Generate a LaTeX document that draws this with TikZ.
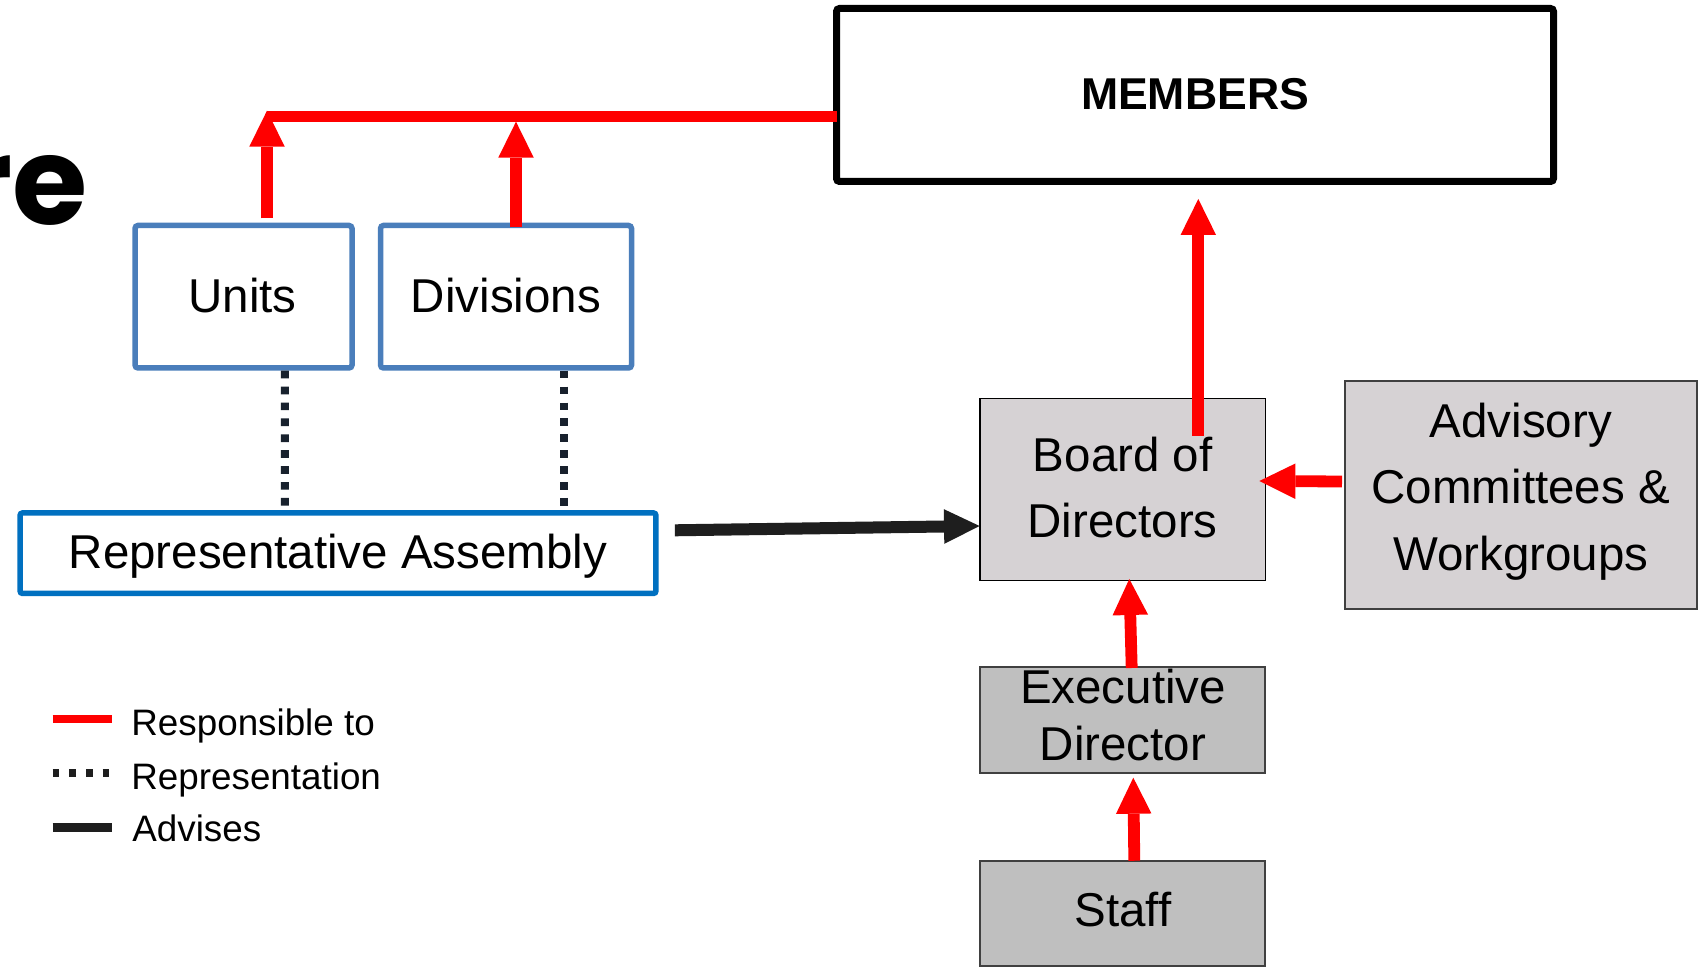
\documentclass[tikz,border=0pt]{standalone}
\usepackage{fontspec}
\setmainfont{Liberation Sans}
\newfontfamily\headingfont{Poppins}
\usetikzlibrary{arrows.meta,calc}

\definecolor{resp}{RGB}{255,0,0}
\definecolor{groupblue}{RGB}{74,126,187}
\definecolor{assemblyblue}{RGB}{0,112,192}
\definecolor{boardfill}{RGB}{214,210,212}
\definecolor{stafffill}{RGB}{191,191,191}
\definecolor{edgegray}{RGB}{64,64,64}
\definecolor{repline}{RGB}{24,33,45}
\definecolor{advline}{RGB}{30,30,30}

\tikzset{
  frame/.style={rectangle, inner sep=0pt, outer sep=0pt},
  memberbox/.style={frame, draw=black, line width=3.5pt, rounded corners=1.5pt},
  groupbox/.style={frame, draw=groupblue, line width=2.75pt, rounded corners=1.5pt},
  assemblybox/.style={frame, draw=assemblyblue, line width=2.75pt, rounded corners=1.2pt},
  boardbox/.style={frame, draw=black, fill=boardfill, line width=0.7pt},
  advisorybox/.style={frame, draw=edgegray, fill=boardfill, line width=1pt},
  staffbox/.style={frame, draw=edgegray, fill=stafffill, line width=1pt},
  boxtext/.style={inner sep=0pt, anchor=base, font=\fontsize{23.75pt}{28pt}\selectfont},
  legendtext/.style={inner sep=0pt, anchor=base west, font=\fontsize{18.4pt}{22pt}\selectfont},
  resparrow/.style={draw=resp, line width=5.9pt, -{Triangle[length=18pt, width=17.75pt, line width=0pt]}},
  busline/.style={draw=resp, line width=5.5pt},
  advarrow/.style={draw=advline, line width=6pt, -{Triangle[length=17.75pt, width=17.35pt, line width=0pt]}},
  repdots/.style={draw=repline, line width=4pt, dash pattern=on 3.85pt off 4.1pt},
}

\begin{document}
\begin{tikzpicture}[x=0.5pt, y=-0.5pt]
  \useasboundingbox (0,0) rectangle (1703,967);
  \fill[white] (0,0) rectangle (1703,967);

  % heading fragment at the left edge
  \node[inner sep=0pt, anchor=base east, font=\headingfont\bfseries\fontsize{61pt}{70pt}\selectfont] (title) at (88,225) {re};

  % boxes
  \node[memberbox, minimum width=358.5pt, minimum height=86.5pt] (members) at (1195,95) {};
  \node[groupbox, minimum width=108.5pt, minimum height=71.25pt] (units) at (243.5,296.75) {};
  \node[groupbox, minimum width=125.5pt, minimum height=71.25pt] (divisions) at (506,296.75) {};
  \node[assemblybox, minimum width=317.9pt, minimum height=40.25pt] (ra) at (338,553.2) {};
  \node[boardbox, minimum width=142.65pt, minimum height=91.2pt] (board) at (1122.7,489.5) {};
  \node[advisorybox, minimum width=175.75pt, minimum height=114.25pt] (advisory) at (1520.75,495.25) {};
  \node[staffbox, minimum width=142.65pt, minimum height=53pt] (exec) at (1122.7,719.7) {};
  \node[staffbox, minimum width=142.65pt, minimum height=52.65pt] (staff) at (1122.7,913.4) {};

  % box texts
  \node[boxtext, font=\bfseries\fontsize{22.3pt}{26pt}\selectfont] (members-t) at (1195,109.3) {MEMBERS};
  \node[boxtext] (units-t) at (242.5,313) {Units};
  \node[boxtext] (divisions-t) at (506,313) {Divisions};
  \node[boxtext] (ra-t) at (338,569) {Representative Assembly};
  \node[boxtext] (board-t1) at (1122.7,471.7) {Board of};
  \node[boxtext] (board-t2) at (1122.7,537.3) {Directors};
  \node[boxtext] (advisory-t1) at (1520.75,437.5) {Advisory};
  \node[boxtext] (advisory-t2) at (1520.75,504) {Committees \&};
  \node[boxtext] (advisory-t3) at (1520.75,570.5) {Workgroups};
  \node[boxtext] (exec-t1) at (1123,703.3) {Executive};
  \node[boxtext] (exec-t2) at (1123,760.7) {Director};
  \node[boxtext] (staff-t) at (1123,926) {Staff};

  % red bus line into MEMBERS
  \coordinate (bus-w) at (267,116.2);
  \coordinate (bus-d) at (516,121.7);
  \draw[busline] (bus-w) -- (members.west |- bus-w);

  % responsible-to arrows
  \draw[resparrow] ($(units.north)+(23.5,-7.2)$) -- ($(bus-w)+(0,-5.5)$);
  \draw[resparrow] ($(divisions.north)+(10,1.8)$) -- (bus-d);
  \draw[resparrow] ($(board.north)+(75.6,37.7)$) -- ($(members.south)+(3.3,17.5)$);
  \draw[resparrow] ($(advisory.west)+(-3,-13.75)$) -- ($(board.east)+(-6,-8.5)$);
  \draw[resparrow] ($(exec.north)+(9,1.3)$) -- ($(board.south)+(6.6,-1.7)$);
  \draw[resparrow] ($(staff.north)+(11.6,0)$) -- ($(exec.south)+(10.6,5)$);

  % advises arrow
  \draw[advarrow] ($(ra.east)+(19,-22.9)$) -- ($(board.west)+(-0.5,36.5)$);

  % representation links
  \draw[repdots] ($(units.south)+(41.3,2.75)$) -- ($(ra.north)+(-53.2,-2.7)$);
  \draw[repdots] ($(divisions.south)+(57.7,2.75)$) -- ($(ra.north)+(225.7,-2.7)$);

  % legend
  \coordinate (leg-r1) at (52.7,719);
  \coordinate (leg-r2) at (111.7,719);
  \coordinate (leg-d1) at (52.7,773);
  \coordinate (leg-d2) at (109.3,773);
  \coordinate (leg-a1) at (52.7,827.5);
  \coordinate (leg-a2) at (111.7,827.5);
  \draw[draw=resp, line width=3.85pt] (leg-r1) -- (leg-r2);
  \draw[draw=advline, line width=4.15pt, dash pattern=on 3.35pt off 4.98pt] (leg-d1) -- (leg-d2);
  \draw[draw=advline, line width=4.15pt] (leg-a1) -- (leg-a2);
  \node[legendtext] (leg-resp) at (131,735) {Responsible to};
  \node[legendtext] (leg-rep) at (131,789) {Representation};
  \node[legendtext] (leg-adv) at (132,841.7) {Advises};
\end{tikzpicture}
\end{document}
